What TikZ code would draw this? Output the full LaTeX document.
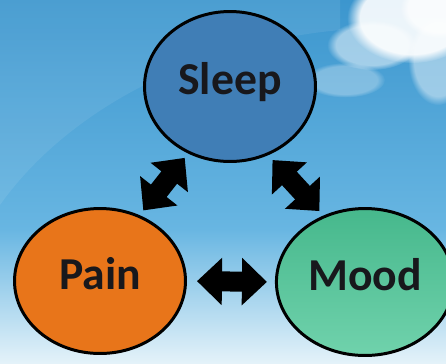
\documentclass[tikz,border=0pt]{standalone}
\usepackage{fontspec}
\setmainfont{Carlito}
\usetikzlibrary{shapes.geometric,arrows.meta,fadings}
\definecolor{skytop}{RGB}{60,150,206}
\definecolor{skymid}{RGB}{104,182,226}
\definecolor{skylow}{RGB}{228,242,249}
\definecolor{sleepblue}{RGB}{64,126,182}
\definecolor{painorange}{RGB}{232,117,26}
\definecolor{moodtop}{RGB}{70,184,140}
\definecolor{moodlow}{RGB}{112,210,172}
\definecolor{labeldark}{RGB}{24,24,28}

\begin{document}
\begin{tikzpicture}[x=0.02cm,y=-0.02cm,
  topic/.style={ellipse,draw=black,line width=1.7pt,text=labeldark,
    font=\bfseries\fontsize{26}{30}\selectfont,text height=0.6cm,text depth=0.28cm},
  link/.style={line width=0.4cm,
    {Triangle[width=0.92cm,length=0.5cm]}-{Triangle[width=0.92cm,length=0.5cm]}},
  cloud/.style={white,path fading=circle with fuzzy edge 20 percent}]
\useasboundingbox (0,0) rectangle (446,363);
% sky
\fill[top color=skytop, bottom color=skymid] (0,0) rectangle (446,230);
\fill[top color=skymid, bottom color=skylow] (0,229) rectangle (446,363);
\fill[white,opacity=0.08] (0,0) -- (0,205) .. controls (60,120) and (180,45) .. (340,30) -- (340,0) -- cycle;
\fill[cloud,opacity=0.9] (412,18) ellipse [x radius=1.3cm, y radius=0.9cm];
\fill[cloud,opacity=0.7] (440,8) ellipse [x radius=0.8cm, y radius=0.6cm];
\fill[cloud,opacity=0.5] (372,45) ellipse [x radius=0.9cm, y radius=0.5cm];
\fill[cloud,opacity=0.45] (438,60) ellipse [x radius=0.6cm, y radius=0.9cm];
\fill[cloud,opacity=0.3] (345,80) ellipse [x radius=0.8cm, y radius=0.35cm];

\node[topic, fill=sleepblue, minimum width=3.42cm, minimum height=3.0cm] (sleep) at (230,86.5) {Sleep};
\node[topic, fill=painorange, minimum width=3.42cm, minimum height=2.9cm] (pain) at (100,281) {Pain};
\node[topic, top color=moodtop, bottom color=moodlow, minimum width=3.14cm, minimum height=2.94cm] (mood) at (365,282) {Mood};

\draw[link, shorten <=0.2cm, shorten >=0.16cm] (pain.east) -- (mood.west);
\draw[link, shorten <=0.12cm, shorten >=0.11cm] (pain.59) -- (sleep.238);
\draw[link, shorten <=0.13cm, shorten >=0.12cm] (sleep.299) -- (mood.122);
\end{tikzpicture}
\end{document}
